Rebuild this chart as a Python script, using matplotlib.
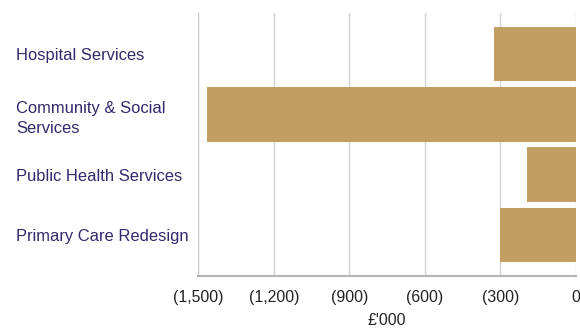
import matplotlib.pyplot as plt
from matplotlib.ticker import FuncFormatter, MultipleLocator

plt.rcParams['font.family'] = ['Liberation Sans', 'DejaVu Sans']

# Spend by programme area, £'000 (negative = saving)
programmes = ["Hospital Services", "Community & Social\nServices",
              "Public Health Services", "Primary Care Redesign"]
values = [-325, -1465, -193, -301]

bar_colour = '#C19F63'
label_colour = '#2E2A6B'


def paren_fmt(x, pos):
    if x < 0:
        return '({:,.0f})'.format(-x)
    return '{:,.0f}'.format(x)


fig = plt.figure(figsize=(5.8, 3.31), dpi=100)
ax = fig.add_axes([198.3 / 580, 1 - 276 / 331, (575.7 - 198.3) / 580, (276 - 13) / 331])

ypos = list(range(len(programmes)))
ax.barh(ypos, values, height=0.907, color=bar_colour, zorder=2)

ax.set_xlim(-1500, 0)
ax.set_ylim(3.68, -0.68)
ax.xaxis.set_major_locator(MultipleLocator(300))
ax.xaxis.set_major_formatter(FuncFormatter(paren_fmt))
ax.grid(axis='x', color='#D3D3D3', linewidth=1.0, zorder=0)
ax.set_axisbelow(True)

ax.set_yticks(ypos)
ax.set_yticklabels(programmes, fontsize=11.9, color=label_colour, ha='left',
                   linespacing=1.45)
ax.tick_params(axis='y', length=0, pad=131)
ax.tick_params(axis='x', length=0, pad=10, labelsize=11.4, labelcolor='#222222')

for side in ['top', 'right']:
    ax.spines[side].set_visible(False)
ax.spines['left'].set_color('#CCCCCC')
ax.spines['bottom'].set_color('#B5B5B5')
ax.spines['bottom'].set_linewidth(1.5)

ax.set_xlabel("£'000", fontsize=11.4, color='#222222', labelpad=6)

fig.savefig('out.png', dpi=100)
